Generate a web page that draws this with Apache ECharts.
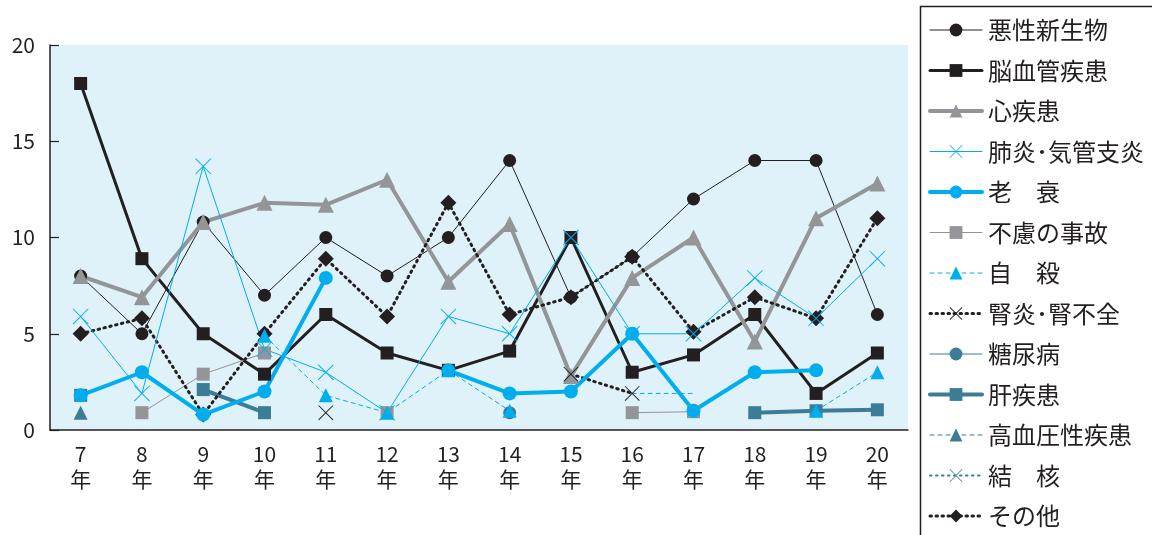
<!DOCTYPE html>
<html>
<head>
<meta charset="utf-8">
<script src="https://cdn.jsdelivr.net/npm/echarts@6/dist/echarts.min.js"></script>
<style>
  html, body { margin: 0; padding: 0; background: #fff; }
  #chart { width: 1152px; height: 535px; }
</style>
</head>
<body>
<div id="chart"></div>
<script>
// ---- datos ----
const years = ['7', '8', '9', '10', '11', '12', '13', '14', '15', '16', '17', '18', '19', '20'];
const yearLabels = years.map(y => y + '\n年');

const akusei      = [8, 5, 10.8, 7, 10, 8, 10, 14, 6.9, 9, 12, 14, 14, 6];
const noukekkan   = [18, 8.9, 5, 2.9, 6, 4, 3.1, 4.1, 10, 3, 3.9, 6, 1.9, 4];
const shinshikkan = [8, 6.9, 10.8, 11.8, 11.7, 13, 7.7, 10.7, 2.8, 7.9, 10, 4.6, 11, 12.8];
const haien       = [5.9, 1.9, 13.7, 4.2, 3, 0.9, 5.9, 5, 10, 5, 5, 7.9, 5.8, 8.9];
const rousui      = [1.8, 3, 0.8, 2, 7.9, null, 3.1, 1.9, 2, 5, 1, 3, 3.1, null];
const furyo       = [null, 0.9, 2.9, 4, null, 0.9, null, null, null, 0.9, 0.95, null, null, null];
const jisatsu     = [null, null, null, 4.9, 1.8, 0.9, 3.1, 1, null, 1.9, 1.9, null, 1, 3];
const jisatsuSinMarca = [9, 10];
const jinen       = [null, null, null, null, 0.9, null, null, null, 2.9, 1.9, null, null, null, null];
const tounyou     = [null, null, null, null, null, null, null, 0.9, null, null, null, null, null, null];
const kan         = [1.8, null, 2.1, 0.9, null, null, null, null, null, null, null, 0.9, 1, 1.05];
const kouketsu    = [0.9, null, null, null, null, null, null, null, null, null, null, null, null, null];
const kekkaku     = [null, null, null, null, null, null, null, null, null, null, null, null, null, null];
const sonota      = [5, 5.8, 0.8, 5, 8.9, 5.9, 11.8, 6, 6.9, 9, 5.1, 6.9, 5.8, 11];

const yTicks = { min: 0, max: 20, interval: 5 };

const legendOrder = ['悪性新生物', '脳血管疾患', '心疾患', '肺炎･気管支炎', '老　衰', '不慮の事故',
  '自　殺', '腎炎･腎不全', '糖尿病', '肝疾患', '高血圧性疾患', '結　核', 'その他'];

// ---- estilos ----
const NEGRO = '#231f20';
const GRIS = '#939598';
const CELESTE = '#00aeef';
const TEAL = '#3b7c96';
const CRUZ = 'path://M0,0.8L0.8,0L20,19.2L19.2,20Z M19.2,0L20,0.8L0.8,20L0,19.2Z';
const CRUZ_N = 'path://M0,0.9L0.9,0L20,19.1L19.1,20Z M19.1,0L20,0.9L0.9,20L0,19.1Z';

function serie(name, data, color, width, type, symbol, size) {
  return {
    name: name,
    type: 'line',
    data: data,
    symbol: symbol,
    symbolSize: size,
    symbolKeepAspect: true,
    showAllSymbol: true,
    connectNulls: false,
    lineStyle: { color: color, width: width, type: type, cap: 'round' },
    itemStyle: { color: color, borderWidth: 0 },
    emphasis: { disabled: true },
    animation: false
  };
}

const dotted = [1.5, 4.5];
const datosJisatsu = jisatsu.map((v, i) =>
  jisatsuSinMarca.includes(i) ? { value: v, symbol: 'none' } : v);

// orden de dibujo (lo de abajo primero)
const series = [
  serie('悪性新生物', akusei, NEGRO, 1, 'solid', 'circle', 13),
  serie('脳血管疾患', noukekkan, NEGRO, 3, 'solid', 'rect', 13),
  serie('心疾患', shinshikkan, GRIS, 4, 'solid', 'triangle', 16),
  serie('不慮の事故', furyo, GRIS, 1, 'solid', 'rect', 13),
  serie('糖尿病', tounyou, TEAL, 1, 'solid', 'circle', 13),
  serie('肝疾患', kan, TEAL, 4, 'solid', 'rect', 13),
  serie('高血圧性疾患', kouketsu, TEAL, 1, [4, 4], 'triangle', 14),
  serie('結　核', kekkaku, TEAL, 2, dotted, CRUZ, 15),
  serie('腎炎･腎不全', jinen, NEGRO, 3, dotted, CRUZ_N, 15),
  serie('その他', sonota, NEGRO, 3, dotted, 'diamond', 16),
  serie('自　殺', datosJisatsu, CELESTE, 1, [4, 4], 'triangle', 14),
  serie('肺炎･気管支炎', haien, CELESTE, 1, 'solid', CRUZ, 16),
  serie('老　衰', rousui, CELESTE, 4, 'solid', 'circle', 14)
];

// leyenda con el grosor real de cada línea
const legendData = legendOrder.map(n => {
  const s = series.find(x => x.name === n);
  return { name: n, lineStyle: { width: s.lineStyle.width, type: s.lineStyle.type, color: s.lineStyle.color } };
});

const chart = echarts.init(document.getElementById('chart'));
chart.setOption({
  backgroundColor: '#ffffff',
  textStyle: { fontFamily: '"Noto Sans CJK JP", "Noto Sans", sans-serif', color: NEGRO },
  grid: {
    left: 50, right: 244, top: 45, bottom: 105,
    show: true, backgroundColor: '#dff1f9', borderWidth: 0
  },
  xAxis: {
    type: 'category',
    data: yearLabels,
    boundaryGap: true,
    axisLine: { lineStyle: { color: NEGRO, width: 1.5 } },
    axisTick: { inside: true, length: 9, lineStyle: { color: NEGRO, width: 1.2 } },
    axisLabel: { color: NEGRO, fontSize: 21, lineHeight: 25, margin: 12, interval: 0 }
  },
  yAxis: {
    type: 'value',
    min: yTicks.min, max: yTicks.max, interval: yTicks.interval,
    splitLine: { show: false },
    axisLine: { show: true, lineStyle: { color: NEGRO, width: 1.5 } },
    axisTick: { show: true, inside: true, length: 9, lineStyle: { color: NEGRO, width: 1.2 } },
    axisLabel: { color: NEGRO, fontSize: 21, margin: 15 }
  },
  legend: {
    data: legendData,
    orient: 'vertical',
    left: 928, top: 18,
    padding: 0,
    itemWidth: 52, itemHeight: 16,
    itemGap: 16.5,
    selectedMode: false,
    textStyle: { fontSize: 24, lineHeight: 24, color: NEGRO, padding: [0, 0, 0, 1] }
  },
  graphic: [{
    type: 'rect',
    silent: true,
    shape: { x: 920.5, y: 6.5, width: 300, height: 600 },
    style: { fill: 'none', stroke: NEGRO, lineWidth: 1.5 }
  }],
  series: series
});
</script>
</body>
</html>
